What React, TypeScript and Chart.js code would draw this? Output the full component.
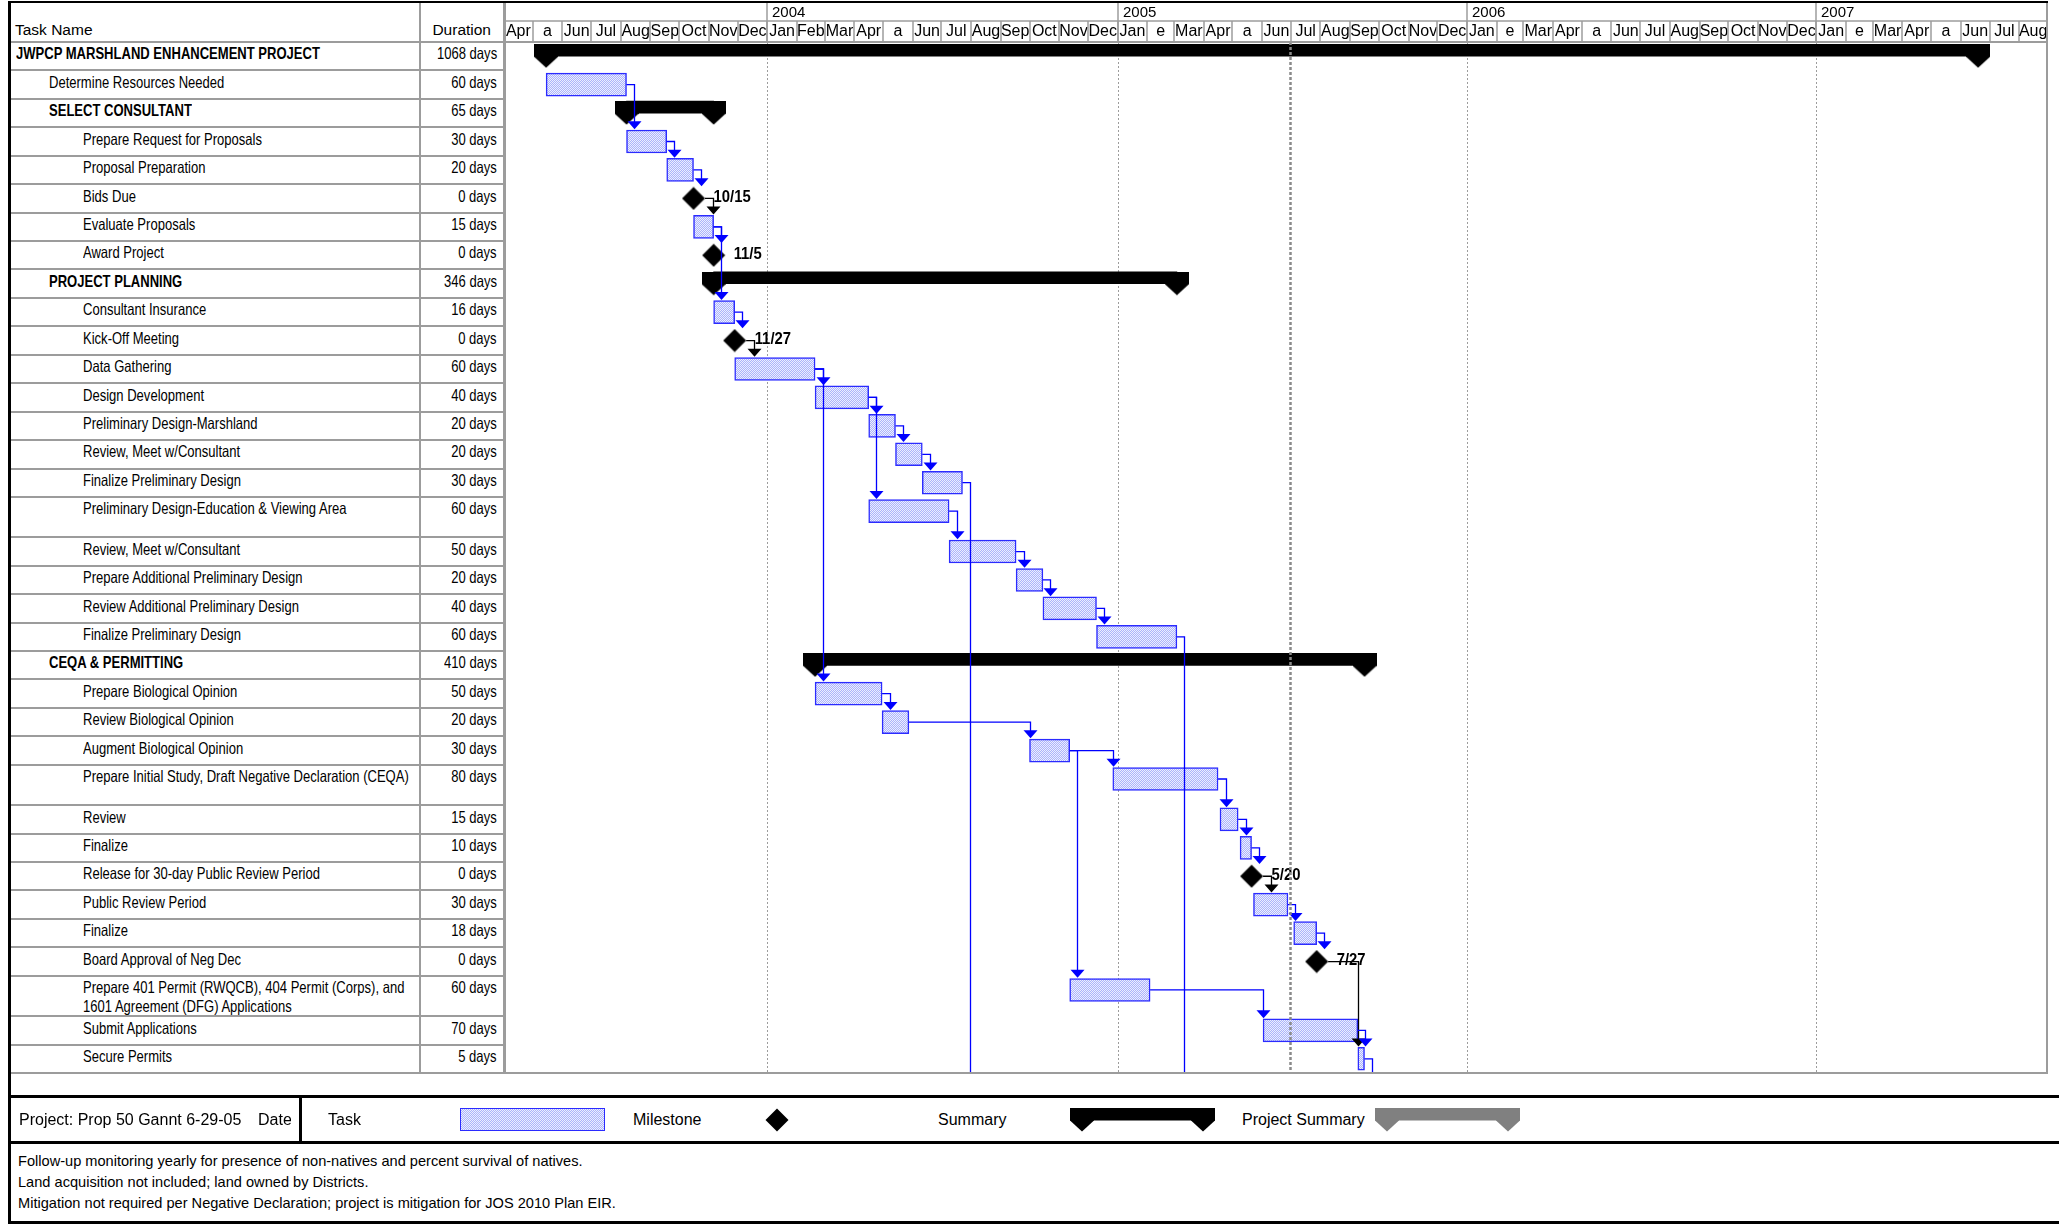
import React, { useEffect, useRef } from "react";
import { Chart, registerables } from "chart.js";

Chart.register(...registerables);

// ---------- data ----------
const taskNames = [
  "JWPCP MARSHLAND ENHANCEMENT PROJECT",
  "Determine Resources Needed",
  "SELECT CONSULTANT",
  "Prepare Request for Proposals",
  "Proposal Preparation",
  "Bids Due",
  "Evaluate Proposals",
  "Award Project",
  "PROJECT PLANNING",
  "Consultant Insurance",
  "Kick-Off Meeting",
  "Data Gathering",
  "Design Development",
  "Preliminary Design-Marshland",
  "Review, Meet w/Consultant",
  "Finalize Preliminary Design",
  "Preliminary Design-Education & Viewing Area",
  "Review, Meet w/Consultant",
  "Prepare Additional Preliminary Design",
  "Review Additional Preliminary Design",
  "Finalize Preliminary Design",
  "CEQA & PERMITTING",
  "Prepare Biological Opinion",
  "Review Biological Opinion",
  "Augment Biological Opinion",
  "Prepare Initial Study, Draft Negative Declaration (CEQA)",
  "Review",
  "Finalize",
  "Release for 30-day Public Review Period",
  "Public Review Period",
  "Finalize",
  "Board Approval of Neg Dec",
  "Prepare 401 Permit (RWQCB), 404 Permit (Corps), and 1601 Agreement (DFG) Applications",
  "Submit Applications",
  "Secure Permits",
];

const durations = [
  1068, 60, 65, 30, 20, 0, 15, 0, 346, 16, 0, 60, 40, 20, 20, 30, 60, 50, 20, 40, 60,
  410, 50, 20, 30, 80, 15, 10, 0, 30, 18, 0, 60, 70, 5,
];

const outlineLevels = [
  0, 1, 1, 2, 2, 2, 2, 2, 1, 2, 2, 2, 2, 2, 2, 2, 2, 2, 2, 2, 2, 1, 2, 2, 2, 2, 2, 2, 2, 2, 2, 2, 2, 2, 2,
];

// S = summary, T = task, M = milestone
const kinds = [
  "S", "T", "S", "T", "T", "M", "T", "M", "S", "T", "M", "T", "T", "T", "T", "T", "T", "T",
  "T", "T", "T", "S", "T", "T", "T", "T", "T", "T", "M", "T", "T", "M", "T", "T", "T",
];

const starts = [
  "2003-05-15", "2003-05-15", "2003-08-07", "2003-08-07", "2003-09-18", "2003-10-15",
  "2003-10-16", "2003-11-05", "2003-11-06", "2003-11-06", "2003-11-27", "2003-11-28",
  "2004-02-20", "2004-04-16", "2004-05-14", "2004-06-11", "2004-04-16", "2004-07-09",
  "2004-09-17", "2004-10-15", "2004-12-10", "2004-02-20", "2004-02-20", "2004-04-30",
  "2004-10-01", "2004-12-27", "2005-04-18", "2005-05-09", "2005-05-20", "2005-05-23",
  "2005-07-04", "2005-07-27", "2004-11-12", "2005-06-02", "2005-09-09",
];

const finishes = [
  "2007-06-18", "2003-08-06", "2003-11-05", "2003-09-17", "2003-10-15", "2003-10-15",
  "2003-11-05", "2003-11-05", "2005-03-03", "2003-11-27", "2003-11-27", "2004-02-19",
  "2004-04-15", "2004-05-13", "2004-06-10", "2004-07-22", "2004-07-08", "2004-09-16",
  "2004-10-14", "2004-12-09", "2005-03-03", "2005-09-15", "2004-04-29", "2004-05-27",
  "2004-11-11", "2005-04-15", "2005-05-06", "2005-05-20", "2005-05-20", "2005-06-27",
  "2005-07-27", "2005-07-27", "2005-02-03", "2005-09-08", "2005-09-15",
];

// finish-to-start links [predecessor row, successor row]; null = continues past this page
const links: [number, number | null][] = [
  [1, 3], [3, 4], [4, 5], [5, 6], [6, 7], [6, 9], [9, 10], [10, 11], [11, 12], [11, 22],
  [12, 13], [12, 16], [13, 14], [14, 15], [15, null], [16, 17], [17, 18], [18, 19],
  [19, 20], [20, null], [22, 23], [23, 24], [24, 25], [24, 32], [25, 26], [26, 27],
  [27, 28], [28, 29], [29, 30], [30, 31], [31, 34], [32, 33], [33, 34], [34, null],
];

const monthLabels = [
  "Apr", "a", "Jun", "Jul", "Aug", "Sep", "Oct", "Nov", "Dec",
  "Jan", "Feb", "Mar", "Apr", "a", "Jun", "Jul", "Aug", "Sep", "Oct", "Nov", "Dec",
  "Jan", "e", "Mar", "Apr", "a", "Jun", "Jul", "Aug", "Sep", "Oct", "Nov", "Dec",
  "Jan", "e", "Mar", "Apr", "a", "Jun", "Jul", "Aug", "Sep", "Oct", "Nov", "Dec",
  "Jan", "e", "Mar", "Apr", "a", "Jun", "Jul", "Aug",
];
const yearLabels = ["2004", "2005", "2006", "2007"];

const timescaleStart = "2003-04-01";
const timescaleEnd = "2007-08-30";
const statusDate = "2005-06-29";

const projectLabel = "Project: Prop 50 Gannt 6-29-05";
const dateLabel = "Date: Wed 6/29/05";
const notes = [
  "Follow-up monitoring yearly for presence of non-natives and percent survival of natives.",
  "Land acquisition not included; land owned by Districts.",
  "Mitigation not required per Negative Declaration; project is mitigation for JOS 2010 Plan EIR.",
];

// ---------- layout ----------
const FONT = '"Liberation Sans", Arial, Helvetica, sans-serif';
const NARROW = 0.79;
const GRAY = "#9c9c9c";
const LINK_BLUE = "#0000ff";
const BAR_BLUE = "#2b2bff";
const DOT_DARK = "rgb(172,180,250)";
const DOT_LIGHT = "rgb(236,238,255)";
const TALL_ROWS = [16, 25, 32];
const TALL = 1.42;
const CHART_LEFT = 504;
const CHART_RIGHT = 2047;
const CHART_TOP = 42;
const CHART_BOTTOM = 1073;
const CANVAS_TOP = 3;
const INDENT = [16, 49, 83];

const DAY = 86400000;
const t0 = Date.parse(timescaleStart + "T00:00:00Z");
const dayOf = (iso: string) => (Date.parse(iso + "T00:00:00Z") - t0) / DAY;
const startX = (i: number) => (kinds[i] === "M" ? dayOf(starts[i]) + 1 : dayOf(starts[i]));
const endX = (i: number) => dayOf(finishes[i]) + 1;
const monthStart = (i: number) => {
  const d = new Date(t0);
  return new Date(Date.UTC(d.getUTCFullYear(), d.getUTCMonth() + i, 1)).toISOString().slice(0, 10);
};

const rowSpan = taskNames.map((_, i) => (TALL_ROWS.includes(i) ? TALL : 1));
const rowTop: number[] = [];
let acc = 0;
rowSpan.forEach((s) => {
  rowTop.push(acc);
  acc += s;
});
const totalUnits = acc;
const unitPx = (CHART_BOTTOM - CHART_TOP) / totalUnits;
const rowTopPx = (i: number) => CHART_TOP + rowTop[i] * unitPx;
const rowBottomPx = (i: number) => CHART_TOP + (rowTop[i] + rowSpan[i]) * unitPx;

const msLabel = (iso: string) => {
  const [, m, d] = iso.split("-");
  return `${Number(m)}/${Number(d)}`;
};

function shapeCanvas(draw: (g: CanvasRenderingContext2D) => void) {
  const c = document.createElement("canvas");
  c.width = 24;
  c.height = 24;
  draw(c.getContext("2d") as CanvasRenderingContext2D);
  return c;
}

const ganttPlugin = {
  id: "ganttDecor",
  beforeDatasetsDraw(chart: any) {
    const { ctx, chartArea: a, scales } = chart;
    const x = scales.x;
    ctx.save();
    ctx.strokeStyle = GRAY;
    ctx.lineWidth = 1.5;
    // timescale tiers
    ctx.beginPath();
    ctx.moveTo(0, 18);
    ctx.lineTo(a.right, 18);
    ctx.stroke();
    ctx.font = `16px ${FONT}`;
    ctx.fillStyle = "#000";
    ctx.textBaseline = "middle";
    ctx.textAlign = "center";
    monthLabels.forEach((label, i) => {
      const x0 = x.getPixelForValue(dayOf(monthStart(i)));
      const x1 = Math.min(x.getPixelForValue(dayOf(monthStart(i + 1))), a.right);
      if (i > 0) {
        ctx.beginPath();
        ctx.moveTo(Math.round(x0), 18);
        ctx.lineTo(Math.round(x0), a.top);
        ctx.stroke();
      }
      ctx.fillText(label, (x0 + x1) / 2, 29);
    });
    ctx.textAlign = "left";
    ctx.font = `15px ${FONT}`;
    yearLabels.forEach((yr) => {
      const xx = Math.round(x.getPixelForValue(dayOf(`${yr}-01-01`)));
      ctx.setLineDash([]);
      ctx.lineWidth = 1.5;
      ctx.beginPath();
      ctx.moveTo(xx, 0);
      ctx.lineTo(xx, a.top);
      ctx.stroke();
      ctx.fillText(yr, xx + 5, 10);
      ctx.lineWidth = 1;
      ctx.setLineDash([2, 2]);
      ctx.beginPath();
      ctx.moveTo(xx + 0.5, a.top);
      ctx.lineTo(xx + 0.5, a.bottom);
      ctx.stroke();
    });
    ctx.restore();
  },
  afterDatasetsDraw(chart: any) {
    const { ctx, chartArea: a, scales } = chart;
    const x = scales.x;
    const y = scales.y;
    ctx.save();
    ctx.lineWidth = 1.3;
    links.forEach(([from, to]) => {
      const ms = kinds[from] === "M";
      const color = ms ? "#000" : LINK_BLUE;
      ctx.strokeStyle = color;
      ctx.fillStyle = color;
      const yMid = y.getPixelForValue(rowTop[from] + 0.5);
      const pe = ms ? x.getPixelForValue(endX(from)) + 11.5 : x.getPixelForValue(endX(from));
      if (to === null) {
        const ax = Math.round(pe + 7.5) + 0.5;
        ctx.beginPath();
        ctx.moveTo(pe, yMid);
        ctx.lineTo(ax, yMid);
        ctx.lineTo(ax, a.bottom);
        ctx.stroke();
        return;
      }
      const ss = x.getPixelForValue(startX(to));
      const ax = Math.round(Math.max(pe + 7.5, ss)) + 0.5;
      const tip = y.getPixelForValue(rowTop[to]) + 2;
      ctx.beginPath();
      ctx.moveTo(pe, yMid);
      ctx.lineTo(ax, yMid);
      ctx.lineTo(ax, tip - 7);
      ctx.stroke();
      ctx.beginPath();
      ctx.moveTo(ax - 7, tip - 8);
      ctx.lineTo(ax + 7, tip - 8);
      ctx.lineTo(ax, tip);
      ctx.closePath();
      ctx.fill();
    });
    // milestone date labels
    ctx.fillStyle = "#000";
    ctx.font = `bold 16.5px ${FONT}`;
    ctx.textBaseline = "middle";
    ctx.textAlign = "left";
    kinds.forEach((k, i) => {
      if (k !== "M") return;
      const cx = x.getPixelForValue(startX(i));
      const cy = y.getPixelForValue(rowTop[i] + 0.5);
      ctx.save();
      ctx.translate(cx + 20, cy - 1);
      ctx.scale(0.9, 1);
      ctx.fillText(msLabel(starts[i]), 0, 0);
      ctx.restore();
    });
    // status date line
    const sx = Math.round(x.getPixelForValue(dayOf(statusDate) + 1)) + 0.5;
    ctx.strokeStyle = "#8a8a8a";
    ctx.lineWidth = 2.5;
    ctx.setLineDash([3, 2]);
    ctx.beginPath();
    ctx.moveTo(sx, a.top);
    ctx.lineTo(sx, a.bottom);
    ctx.stroke();
    ctx.restore();
  },
};

const GanttChart = () => {
  const canvasRef = useRef<HTMLCanvasElement>(null);

  useEffect(() => {
    if (!canvasRef.current) return;
    const ctx = canvasRef.current.getContext("2d") as CanvasRenderingContext2D;

    // dotted fill like the MS Project print
    const tile = document.createElement("canvas");
    tile.width = 2;
    tile.height = 2;
    const tg = tile.getContext("2d") as CanvasRenderingContext2D;
    tg.fillStyle = DOT_LIGHT;
    tg.fillRect(0, 0, 2, 2);
    tg.fillStyle = DOT_DARK;
    tg.fillRect(0, 0, 1, 1);
    tg.fillRect(1, 1, 1, 1);
    const dots = ctx.createPattern(tile, "repeat") as CanvasPattern;

    const cap = shapeCanvas((g) => {
      g.fillStyle = "#000";
      g.beginPath();
      g.moveTo(0, 0);
      g.lineTo(24, 0);
      g.lineTo(24, 12.5);
      g.lineTo(12, 23.5);
      g.lineTo(0, 12.5);
      g.closePath();
      g.fill();
    });
    const diamond = shapeCanvas((g) => {
      g.fillStyle = "#000";
      g.beginPath();
      g.moveTo(12, 0.5);
      g.lineTo(23.5, 12);
      g.lineTo(12, 23.5);
      g.lineTo(0.5, 12);
      g.closePath();
      g.fill();
    });

    const rows = taskNames.map((_, i) => i);
    const taskRows = rows.filter((i) => kinds[i] === "T");
    const summaryRows = rows.filter((i) => kinds[i] === "S");
    const milestoneRows = rows.filter((i) => kinds[i] === "M");

    const gantt = new Chart(ctx, {
      type: "bar",
      data: {
        datasets: [
          {
            type: "bar",
            indexAxis: "y",
            data: summaryRows.map((i) => ({ x: [startX(i), endX(i)], y: rowTop[i] + 8.25 / unitPx })),
            backgroundColor: "#000",
            borderWidth: 0,
            barThickness: 12,
            grouped: false,
          },
          {
            type: "bar",
            indexAxis: "y",
            data: taskRows.map((i) => ({ x: [startX(i), endX(i)], y: rowTop[i] + 0.5 })),
            backgroundColor: dots,
            borderColor: BAR_BLUE,
            borderWidth: 1.5,
            borderSkipped: false,
            barThickness: 23,
            grouped: false,
          },
          {
            type: "scatter",
            data: summaryRows.flatMap((i) => [
              { x: startX(i), y: rowTop[i] + 0.5 },
              { x: endX(i), y: rowTop[i] + 0.5 },
            ]),
            pointStyle: cap,
            pointRadius: 12,
          },
          {
            type: "scatter",
            data: milestoneRows.map((i) => ({ x: startX(i), y: rowTop[i] + 0.5 })),
            pointStyle: diamond,
            pointRadius: 12,
          },
        ] as any,
      },
      options: {
        indexAxis: "y",
        animation: false,
        responsive: true,
        maintainAspectRatio: false,
        events: [],
        layout: { autoPadding: false, padding: { top: CHART_TOP - CANVAS_TOP, left: 0, right: 0, bottom: 0 } },
        scales: {
          x: { type: "linear", min: 0, max: dayOf(timescaleEnd), offset: false, display: false },
          y: { type: "linear", min: 0, max: totalUnits, reverse: true, offset: false, display: false },
        },
        plugins: { legend: { display: false }, tooltip: { enabled: false } },
      },
      plugins: [ganttPlugin],
    });

    return () => {
      gantt.destroy();
    };
  }, []);

  return (
    <div
      style={{
        position: "absolute",
        left: CHART_LEFT,
        top: CANVAS_TOP,
        width: CHART_RIGHT - CHART_LEFT,
        height: CHART_BOTTOM - CANVAS_TOP,
      }}
    >
      <canvas ref={canvasRef} />
    </div>
  );
};

const bar = (left: number, top: number, width: number, height: number, color: string) => (
  <div style={{ position: "absolute", left, top, width, height, background: color }} />
);

const narrow = (text: string, origin: string, bold = false) => (
  <span
    style={{
      display: "inline-block",
      transform: `scaleX(${NARROW})`,
      transformOrigin: origin,
      whiteSpace: "nowrap",
      fontWeight: bold ? "bold" : "normal",
    }}
  >
    {text}
  </span>
);

const capPath = (x0: number) => `${x0},0 ${x0 + 24},0 ${x0 + 24},12.5 ${x0 + 12},23.5 ${x0},12.5`;

const SummarySwatch = ({ left, color }: { left: number; color: string }) => (
  <svg style={{ position: "absolute", left, top: 1108 }} width={145} height={24}>
    <rect x={0} y={0} width={145} height={12.5} fill={color} />
    <polygon points={capPath(0)} fill={color} />
    <polygon points={capPath(121)} fill={color} />
  </svg>
);

const legendText = (left: number, text: string) => (
  <div style={{ position: "absolute", left, top: 1109, fontSize: 16, lineHeight: "22px", whiteSpace: "nowrap" }}>
    {text}
  </div>
);

export default function App() {
  return (
    <div
      style={{
        position: "absolute",
        left: 0,
        top: 0,
        width: 2059,
        height: 1225,
        background: "#fff",
        fontFamily: FONT,
        color: "#000",
        overflow: "hidden",
      }}
    >
      <GanttChart />

      {/* table header */}
      <div style={{ position: "absolute", left: 15, top: 21, fontSize: 15.5, lineHeight: "18px" }}>Task Name</div>
      <div style={{ position: "absolute", left: 420, width: 71, top: 21, fontSize: 15.5, lineHeight: "18px", textAlign: "right" }}>
        Duration
      </div>

      {/* table rows */}
      {taskNames.map((name, i) => {
        const top = rowTopPx(i) + 2.4;
        const wraps = i === 32;
        return (
          <React.Fragment key={i}>
            {wraps ? (
              <div
                style={{
                  position: "absolute",
                  left: INDENT[outlineLevels[i]],
                  top,
                  width: 425,
                  fontSize: 16.5,
                  lineHeight: "18.5px",
                  transform: `scaleX(${NARROW})`,
                  transformOrigin: "left top",
                }}
              >
                {name}
              </div>
            ) : (
              <div style={{ position: "absolute", left: INDENT[outlineLevels[i]], top, fontSize: 16.5, lineHeight: "18.5px" }}>
                {narrow(name, "left center", kinds[i] === "S")}
              </div>
            )}
            <div style={{ position: "absolute", left: 400, width: 97, top, fontSize: 16.5, lineHeight: "18.5px", textAlign: "right" }}>
              {narrow(`${durations[i]} days`, "right center")}
            </div>
            {bar(10, Math.round(rowBottomPx(i)) - 1, 494, 2, GRAY)}
          </React.Fragment>
        );
      })}

      {/* frame */}
      {bar(9, 1, 2039, 2, "#000")}
      {bar(10, 41, 2037, 2, GRAY)}
      {bar(419, 3, 2, CHART_BOTTOM - 3, GRAY)}
      {bar(503, 3, 3, CHART_BOTTOM - 3, GRAY)}
      {bar(2046, 3, 2, CHART_BOTTOM - 2, GRAY)}
      {bar(10, 1072, 2038, 2, GRAY)}
      {bar(8, 1, 3, 1223, "#000")}
      {bar(9, 1095, 2050, 3, "#000")}
      {bar(9, 1141, 2050, 3, "#000")}
      {bar(9, 1221, 2050, 3, "#000")}
      {bar(299, 1096, 3, 47, "#000")}

      {/* legend */}
      <div style={{ position: "absolute", left: 11, top: 1098, width: 280, height: 43, overflow: "hidden", fontSize: 16 }}>
        <div style={{ position: "absolute", left: 8, top: 11, lineHeight: "22px", whiteSpace: "nowrap" }}>{projectLabel}</div>
        <div style={{ position: "absolute", left: 247, top: 11, lineHeight: "22px", whiteSpace: "nowrap" }}>{dateLabel}</div>
      </div>
      {legendText(328, "Task")}
      <div
        style={{
          position: "absolute",
          left: 460,
          top: 1108,
          width: 145,
          height: 23,
          boxSizing: "border-box",
          border: `1.5px solid ${BAR_BLUE}`,
          background: `conic-gradient(${DOT_DARK} 25%, ${DOT_LIGHT} 0 50%, ${DOT_DARK} 0 75%, ${DOT_LIGHT} 0) 0 0 / 2px 2px`,
        }}
      />
      {legendText(633, "Milestone")}
      <svg style={{ position: "absolute", left: 765, top: 1108 }} width={24} height={24}>
        <polygon points="12,0.5 23.5,12 12,23.5 0.5,12" fill="#000" />
      </svg>
      {legendText(938, "Summary")}
      <SummarySwatch left={1070} color="#000" />
      {legendText(1242, "Project Summary")}
      <SummarySwatch left={1375} color="#808080" />

      {/* notes */}
      <div style={{ position: "absolute", left: 18, top: 1151, fontSize: 14.6, lineHeight: "21px", whiteSpace: "nowrap" }}>
        {notes.map((n, i) => (
          <div key={i}>{n}</div>
        ))}
      </div>
    </div>
  );
}
